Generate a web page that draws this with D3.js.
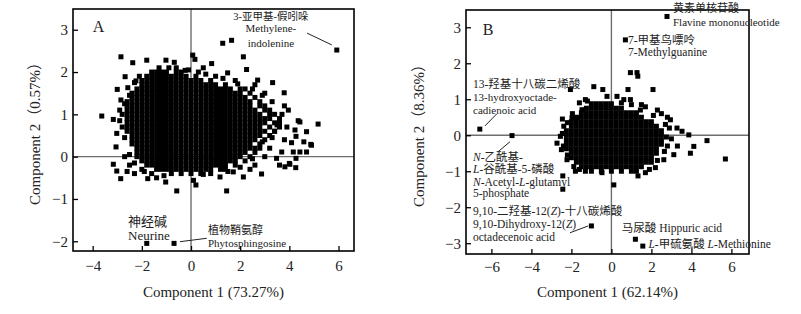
<!DOCTYPE html>
<html>
<head>
<meta charset="utf-8">
<title>PCA score plots</title>
<script src="https://d3js.org/d3.v7.min.js"></script>
<style>
  body { margin: 0; background: #fff; }
  text { font-family: "Liberation Serif", "Noto Sans CJK SC", serif; }
</style>
</head>
<body>
<svg width="801" height="314" id="mainSvg"></svg>
<script>
// ---- panel A data ----
const ticksAX = [-4, -2, 0, 2, 4, 6];
const ticksAY = [-2, -1, 0, 1, 2, 3];

// dense core of cloud A, one row per score-2 value
const coreRowsA = [
  [2.0, [-1.6,-1.4,-1.2,-1,-0.6,-0.4]],
  [1.9, [-1.8,-1.6,-1.4,-1.2,-1,-0.8,-0.6,-0.4,-0.2,0.2]],
  [1.8, [-2,-1.8,-1.6,-1.4,-1.2,-1,-0.8,-0.6,-0.4,-0.2,0,0.2,0.4,0.8]],
  [1.7, [-2,-1.8,-1.6,-1.4,-1.2,-1,-0.8,-0.6,-0.4,-0.2,0,0.2,0.4,0.6,0.8,1,1.4]],
  [1.6, [-2.2,-2,-1.8,-1.6,-1.4,-1.2,-1,-0.8,-0.6,-0.4,-0.2,0,0.2,0.4,0.6,0.8,1,1.2,1.4,1.6,2,2.2]],
  [1.5, [-2.4,-2.2,-2,-1.8,-1.6,-1.4,-1.2,-1,-0.8,-0.6,-0.4,-0.2,0,0.2,0.4,0.6,0.8,1,1.2,1.4,1.6,1.8,2,2.4]],
  [1.4, [-2.4,-2.2,-2,-1.8,-1.6,-1.4,-1.2,-1,-0.8,-0.6,-0.4,-0.2,0,0.2,0.4,0.6,0.8,1,1.2,1.4,1.6,1.8,2,2.2,2.6]],
  [1.3, [-2.6,-2.4,-2.2,-2,-1.8,-1.6,-1.4,-1.2,-1,-0.8,-0.6,-0.4,-0.2,0,0.2,0.4,0.6,0.8,1,1.2,1.4,1.6,1.8,2,2.2,2.4,2.8]],
  [1.2, [-2.6,-2.4,-2.2,-2,-1.8,-1.6,-1.4,-1.2,-1,-0.8,-0.6,-0.4,-0.2,0,0.2,0.4,0.6,0.8,1,1.2,1.4,1.6,1.8,2,2.2,2.4,2.8,3]],
  [1.1, [-2.6,-2.4,-2.2,-2,-1.8,-1.6,-1.4,-1.2,-1,-0.8,-0.6,-0.4,-0.2,0,0.2,0.4,0.6,0.8,1,1.2,1.4,1.6,1.8,2,2.2,2.4,2.6,3,3.2]],
  [1.0, [-2.8,-2.6,-2.4,-2.2,-2,-1.8,-1.6,-1.4,-1.2,-1,-0.8,-0.6,-0.4,-0.2,0,0.2,0.4,0.6,0.8,1,1.2,1.4,1.6,1.8,2,2.2,2.4,2.6,2.8,3.2,3.4]],
  [0.9, [-2.6,-2.4,-2.2,-2,-1.8,-1.6,-1.4,-1.2,-1,-0.8,-0.6,-0.4,-0.2,0,0.2,0.4,0.6,0.8,1,1.2,1.4,1.6,1.8,2,2.2,2.4,2.6,2.8,3,3.2,3.6]],
  [0.8, [-2.6,-2.4,-2.2,-2,-1.8,-1.6,-1.4,-1.2,-1,-0.8,-0.6,-0.4,-0.2,0,0.2,0.4,0.6,0.8,1,1.2,1.4,1.6,1.8,2,2.2,2.4,2.6,2.8,3,3.4,3.6]],
  [0.7, [-2.6,-2.4,-2.2,-2,-1.8,-1.6,-1.4,-1.2,-1,-0.8,-0.6,-0.4,-0.2,0,0.2,0.4,0.6,0.8,1,1.2,1.4,1.6,1.8,2,2.2,2.4,2.6,2.8,3.2,3.6]],
  [0.6, [-2.6,-2.4,-2.2,-2,-1.8,-1.6,-1.4,-1.2,-1,-0.8,-0.6,-0.4,-0.2,0,0.2,0.4,0.6,0.8,1,1.2,1.4,1.6,1.8,2,2.2,2.4,2.6,2.8,3,3.4]],
  [0.5, [-2.4,-2.2,-2,-1.8,-1.6,-1.4,-1.2,-1,-0.8,-0.6,-0.4,-0.2,0,0.2,0.4,0.6,0.8,1,1.2,1.4,1.6,1.8,2,2.2,2.4,2.6,2.8,3.2]],
  [0.4, [-2.4,-2.2,-2,-1.8,-1.6,-1.4,-1.2,-1,-0.8,-0.6,-0.4,-0.2,0,0.2,0.4,0.6,0.8,1,1.2,1.4,1.6,1.8,2,2.2,2.4,2.6,3]],
  [0.3, [-2.4,-2.2,-2,-1.8,-1.6,-1.4,-1.2,-1,-0.8,-0.6,-0.4,-0.2,0,0.2,0.4,0.6,0.8,1,1.2,1.4,1.6,1.8,2,2.2,2.4,2.8]],
  [0.2, [-2.2,-2,-1.8,-1.6,-1.4,-1.2,-1,-0.8,-0.6,-0.4,-0.2,0,0.2,0.4,0.6,0.8,1,1.2,1.4,1.6,1.8,2,2.2,2.4,2.6,2.8]],
  [0.1, [-2.2,-2,-1.8,-1.6,-1.4,-1.2,-1,-0.8,-0.6,-0.4,-0.2,0,0.2,0.4,0.6,0.8,1,1.2,1.4,1.6,1.8,2,2.2,2.6]],
  [0.0, [-2.2,-2,-1.8,-1.6,-1.4,-1.2,-1,-0.8,-0.6,-0.4,-0.2,0,0.2,0.4,0.6,0.8,1,1.2,1.4,1.6,1.8,2,2.4]],
  [-0.1, [-2,-1.8,-1.6,-1.4,-1.2,-1,-0.8,-0.6,-0.4,-0.2,0,0.2,0.4,0.6,0.8,1,1.2,1.4,1.6,1.8,2.2]],
  [-0.2, [-1.8,-1.6,-1.4,-1.2,-1,-0.8,-0.6,-0.4,-0.2,0,0.2,0.4,0.6,0.8,1,1.2,1.4,1.8]],
  [-0.3, [-1.4,-1.2,-1,-0.8,-0.6,-0.4,-0.2,0,0.2,0.4,0.6,0.8,1.2]],
  [-0.4, [-0.8,-0.4,0,0.4]]
];

// scattered points around cloud A
const scatterA = [
  [-2.85,2.36],[-2.37,2.22],[-1.8,2.28],[-1.02,2.28],[-0.68,2.23],[-0.24,2.04],[0.07,2.4],[0.16,2.3],
  [1.29,2.68],[1.65,2.75],[2.13,2.36],[2.26,2.06],[1.49,1.98],[0.84,2.2],[0.5,2.1],[2.71,1.81],
  [3.32,1.75],[3.79,1.51],[3.96,1.1],[4.36,0.85],[5.17,0.77],[4.7,0.59],[4.9,0.27],[4.23,0.63],
  [-3.63,0.96],[-3.0,1.59],[-2.68,1.89],[-2.57,1.63],[-3.16,0.88],[-3.02,0.55],[-3.05,0.23],[-2.24,1.79],
  [-2.85,1.34],[-3.16,-0.18],[-3.02,-0.34],[-2.86,-0.52],[-2.6,-0.35],[-2.3,-0.4],[-1.76,-0.52],[-1.4,-0.5],
  [-1.03,-0.6],[-0.58,-0.81],[0.1,-0.56],[0.2,-0.67],[1.45,-0.81],[1.18,-0.48],[1.72,-0.36],[2.13,-0.48],
  [2.87,-0.41],[3.82,-0.24],[4.02,-0.18],[4.26,-0.26],[4.43,0.11],[4.7,0.11],[3.48,-0.04],[4.27,0.48],
  [4.87,0.29],[4.16,0.11],[4.59,0.35],[4.09,0.33],[3.69,0.11],[4.27,-0.04],[4.0,-0.16],[4.43,0.82],
  [3.0,1.5],[2.6,1.7],[1.8,1.8],[3.8,1.2],[3.9,0.7],[3.8,0.4],[3.2,0.2],[3.4,0.6],[3.6,-0.2],
  [2.6,-0.2],[3.0,0.0],[-2.8,0.7],[-2.9,1.1],[-2.7,0.0],[-2.5,-0.2],[-2.0,-0.3],[-1.6,-0.4],
  [0.8,-0.4],[1.4,-0.3],[2.4,-0.3],[1.0,1.9],[0.3,2.0],[-0.6,2.1],[-1.3,2.1],
  [-2.3,1.75],[-2.5,1.45],[-2.7,1.25],[-2.9,0.85],[-2.7,0.45],[-2.5,0.05],[-2.3,-0.15],[-1.9,-0.35],
  [-1.1,-0.45],[0.5,-0.42],[1.5,-0.35],[2.0,-0.25],[2.5,-0.05],[2.9,0.35],[3.3,0.45],[3.5,0.75],
  [3.7,1.0],[3.3,1.3],[2.9,1.45],[2.5,1.6],[1.9,1.72],[1.3,1.85],[0.6,1.95],[-0.1,2.05],[-0.9,2.1],[-2.1,1.9]
];
// labelled metabolites in A: methylene-indolenine, neurine, phytosphingosine
const labelledA = [[5.93,2.52],[-1.8,-2.05],[-0.69,-2.05]];

const notesA = [
  {x: -4.0, y: 2.94, t: "A", s: 16, a: "start"},
  {x: 3.25, y: 3.23, t: "3-亚甲基-假吲哚", s: 10.5, a: "middle"},
  {x: 3.25, y: 2.94, t: "Methylene-", s: 11, a: "middle"},
  {x: 3.25, y: 2.59, t: "indolenine", s: 11, a: "middle"},
  {x: -1.77, y: -1.63, t: "神经碱", s: 13, a: "middle"},
  {x: -1.71, y: -1.96, t: "Neurine", s: 13, a: "middle"},
  {x: 0.69, y: -1.83, t: "植物鞘氨醇", s: 11, a: "start"},
  {x: 0.69, y: -2.13, t: "Phytosphingosine", s: 11, a: "start"}
];
const leadersA = [[4.72,2.92,5.73,2.64],[-0.45,-2.01,0.64,-1.93]];

// ---- panel B data ----
const ticksBX = [-6, -4, -2, 0, 2, 4, 6];
const ticksBY = [-3, -2, -1, 0, 1, 2, 3];

const coreRowsB = [
  [0.875, [-1,-0.75,-0.5,-0.25,0]],
  [0.75, [-1.25,-1,-0.75,-0.5,-0.25,0,0.25,0.5]],
  [0.625, [-1.5,-1.25,-1,-0.75,-0.5,-0.25,0,0.25,0.5,0.75,1,1.25]],
  [0.5, [-1.75,-1.5,-1.25,-1,-0.75,-0.5,-0.25,0,0.25,0.5,0.75,1,1.25,1.5]],
  [0.375, [-2,-1.75,-1.5,-1.25,-1,-0.75,-0.5,-0.25,0,0.25,0.5,0.75,1,1.25,1.5,1.75,2]],
  [0.25, [-2,-1.75,-1.5,-1.25,-1,-0.75,-0.5,-0.25,0,0.25,0.5,0.75,1,1.25,1.5,1.75,2,2.25]],
  [0.125, [-2.25,-2,-1.75,-1.5,-1.25,-1,-0.75,-0.5,-0.25,0,0.25,0.5,0.75,1,1.25,1.5,1.75,2,2.25,2.5]],
  [0, [-2.25,-2,-1.75,-1.5,-1.25,-1,-0.75,-0.5,-0.25,0,0.25,0.5,0.75,1,1.25,1.5,1.75,2,2.25,2.5]],
  [-0.125, [-2.25,-2,-1.75,-1.5,-1.25,-1,-0.75,-0.5,-0.25,0,0.25,0.5,0.75,1,1.25,1.5,1.75,2,2.25,2.5]],
  [-0.25, [-2.25,-2,-1.75,-1.5,-1.25,-1,-0.75,-0.5,-0.25,0,0.25,0.5,0.75,1,1.25,1.5,1.75,2,2.25,2.5]],
  [-0.375, [-2.25,-2,-1.75,-1.5,-1.25,-1,-0.75,-0.5,-0.25,0,0.25,0.5,0.75,1,1.25,1.5,1.75,2,2.25]],
  [-0.5, [-2,-1.75,-1.5,-1.25,-1,-0.75,-0.5,-0.25,0,0.25,0.5,0.75,1,1.25,1.5,1.75,2,2.25]],
  [-0.625, [-2,-1.75,-1.5,-1.25,-1,-0.75,-0.5,-0.25,0,0.25,0.5,0.75,1,1.25,1.5,1.75,2]],
  [-0.75, [-1.75,-1.5,-1.25,-1,-0.75,-0.5,-0.25,0,0.25,0.5,0.75,1,1.25,1.5,1.75,2]],
  [-0.875, [-1.5,-1.25,-1,-0.75,-0.5,-0.25,0,0.25,0.5,0.75,1,1.25,1.5]],
  [-1, [-1,-0.5,0,0.5,1]]
];

const scatterB = [
  [0.95,1.74],[1.28,1.74],[1.32,1.64],[2.08,1.27],[0.83,1.27],[-2.05,1.27],[-0.88,1.35],[-0.43,1.27],
  [-0.22,1.08],[0.28,1.08],[0.62,0.99],[0.95,0.99],[1.7,0.79],[2.95,0.43],[2.5,0.6],[2.8,0.5],
  [3.28,0.2],[3.53,0.11],[3.87,0.01],[4.12,-0.31],[4.78,-0.15],[5.7,-0.66],[-2.38,0.25],[-2.72,-0.22],
  [-2.55,-0.03],[-1.72,0.48],[-1.47,0.71],[-1.97,0.48],[-1.3,0.99],[-1.6,0.9],[-2.22,-0.68],[-1.88,-0.87],
  [-0.47,-1.04],[0.12,-1.38],[1.33,-1.13],[1.7,-1.04],[2.62,-0.68],[3.12,-0.54],[3.95,-0.5],[2.8,-0.3],
  [3.0,-0.1],[2.9,0.2],[3.3,-0.3],[1.25,-1.0],[-1.3,-1.0],[-1.8,-1.0],[2.2,-0.9],[-2.5,-0.4],
  [-2.45,0.45],[1.0,0.85],[1.5,0.85],[2.3,0.7],
  [-2.45,0.05],[-2.4,-0.3],[-2.2,0.35],[-1.95,0.6],[-1.2,0.95],[0.5,0.9],[1.45,0.7],[2.1,0.55],
  [2.7,0.3],[2.75,-0.05],[2.65,-0.45],[2.3,-0.7],[1.9,-0.95],[-1.6,-0.95],[-2.2,-0.55]
];
// labelled metabolites in B
const labelledB = [
  [2.78,3.3],[0.7,2.65],[-6.58,0.17],[-4.97,-0.01],[-2.43,-1.13],[-2.43,-1.5],
  [-1.0,-2.52],[1.2,-2.89],[1.57,-3.08]
];

const notesB = [
  {x: -6.43, y: 2.78, t: "B", s: 16, a: "start"},
  {x: 3.08, y: 3.42, t: "黄素单核苷酸", s: 11, a: "start"},
  {x: 3.08, y: 3.03, t: "Flavine mononucleotide", s: 11, a: "start"},
  {x: 0.83, y: 2.53, t: "7-甲基鸟嘌呤", s: 11.5, a: "start"},
  {x: 0.83, y: 2.2, t: "7-Methylguanine", s: 11.5, a: "start"},
  {x: -6.92, y: 1.3, t: "13-羟基十八碳二烯酸", s: 11.5, a: "start"},
  {x: -6.92, y: 0.94, t: "13-hydroxyoctade-", s: 11, a: "start"},
  {x: -6.92, y: 0.6, t: "cadienoic acid", s: 11, a: "start"},
  {x: -6.92, y: -0.71, t: "_N_-乙酰基-", s: 11.5, a: "start"},
  {x: -6.92, y: -1.05, t: "_L_-谷酰基-5-磷酸", s: 11.5, a: "start"},
  {x: -6.92, y: -1.41, t: "_N_-Acetyl-_L_-glutamyl", s: 11.5, a: "start"},
  {x: -6.92, y: -1.71, t: "5-phosphate", s: 11.5, a: "start"},
  {x: -6.92, y: -2.21, t: "9,10-二羟基-12(_Z_)-十八碳烯酸", s: 11.5, a: "start"},
  {x: -6.92, y: -2.58, t: "9,10-Dihydroxy-12(_Z_)", s: 11.5, a: "start"},
  {x: -6.92, y: -2.95, t: "octadecenoic acid", s: 11.5, a: "start"},
  {x: 0.52, y: -2.7, t: "马尿酸 Hippuric acid", s: 11.5, a: "start"},
  {x: 1.85, y: -3.14, t: "_L_-甲硫氨酸 _L_-Methionine", s: 11.5, a: "start"}
];
const leadersB = [[-6.32,0.26,-5.74,0.59],[-5.67,-0.46,-5.07,-0.18],[-2.07,-2.71,-1.16,-2.52]];

const panels = [
  {box: {left: 73, top: 9, right: 354, bottom: 251}, xDomain: [-4.8, 6.63], yDomain: [-2.23, 3.49],
   xTicks: ticksAX, yTicks: ticksAY, rows: coreRowsA, points: scatterA.concat(labelledA),
   notes: notesA, leaders: leadersA, xTitle: "Component 1 (73.27%)", yTitle: "Component 2（0.57%）",
   yTitleX: 37, xPad: 9},
  {box: {left: 466, top: 10, right: 749, bottom: 254}, xDomain: [-7.27, 6.88], yDomain: [-3.3, 3.48],
   xTicks: ticksBX, yTicks: ticksBY, rows: coreRowsB, points: scatterB.concat(labelledB),
   notes: notesB, leaders: leadersB, xTitle: "Component 1 (62.14%)", yTitle: "Component 2（8.36%）",
   yTitleX: 421, xPad: 7}
];

const svg = d3.select("#mainSvg");
const markSize = 5;

function drawPanel(p) {
  const b = p.box;
  const x = d3.scaleLinear().domain(p.xDomain).range([b.left, b.right]);
  const y = d3.scaleLinear().domain(p.yDomain).range([b.bottom, b.top]);
  const g = svg.append("g");

  // zero lines
  g.append("line")
    .attr("x1", x(0)).attr("x2", x(0)).attr("y1", b.top).attr("y2", b.bottom)
    .attr("stroke", "#6e6e6e").attr("stroke-width", 1.4);
  g.append("line")
    .attr("x1", b.left).attr("x2", b.right).attr("y1", y(0)).attr("y2", y(0))
    .attr("stroke", "#6e6e6e").attr("stroke-width", 1.4);

  const pts = p.rows.flatMap(([yy, xs]) => xs.map(xx => [xx, yy])).concat(p.points);
  g.append("g").selectAll("rect").data(pts).join("rect")
    .attr("x", d => x(d[0]) - markSize / 2)
    .attr("y", d => y(d[1]) - markSize / 2)
    .attr("width", markSize).attr("height", markSize)
    .attr("fill", "#000");

  // axes with inward ticks
  const xAxis = d3.axisBottom(x).tickValues(p.xTicks).tickSize(-5).tickPadding(p.xPad).tickFormat(d3.format("d"));
  const yAxis = d3.axisLeft(y).tickValues(p.yTicks).tickSize(-5).tickPadding(5).tickFormat(d3.format("d"));
  const gx = g.append("g").attr("transform", `translate(0,${b.bottom})`).call(xAxis);
  const gy = g.append("g").attr("transform", `translate(${b.left},0)`).call(yAxis);
  [gx, gy].forEach(ax => {
    ax.select(".domain").remove();
    ax.selectAll("line").attr("stroke", "#000").attr("stroke-width", 1.3);
    ax.selectAll("text").attr("font-size", 15).attr("fill", "#222")
      .attr("font-family", "Liberation Serif, serif");
  });

  g.append("rect")
    .attr("x", b.left).attr("y", b.top)
    .attr("width", b.right - b.left).attr("height", b.bottom - b.top)
    .attr("fill", "none").attr("stroke", "#000").attr("stroke-width", 1.6);

  // leader lines
  g.append("g").selectAll("line").data(p.leaders).join("line")
    .attr("x1", d => x(d[0])).attr("y1", d => y(d[1]))
    .attr("x2", d => x(d[2])).attr("y2", d => y(d[3]))
    .attr("stroke", "#222").attr("stroke-width", 1);

  // annotations, _..._ marks italic parts
  const notes = g.append("g").selectAll("text").data(p.notes).join("text")
    .attr("x", d => x(d.x)).attr("y", d => y(d.y))
    .attr("font-size", d => d.s).attr("text-anchor", d => d.a)
    .attr("fill", "#222");
  notes.each(function(d) {
    const t = d3.select(this);
    d.t.split("_").forEach((part, i) => {
      if (part === "") return;
      t.append("tspan").text(part).attr("font-style", i % 2 ? "italic" : null);
    });
  });

  // axis titles
  g.append("text")
    .attr("x", (b.left + b.right) / 2).attr("y", 297)
    .attr("text-anchor", "middle").attr("font-size", 15).attr("fill", "#222")
    .text(p.xTitle);
  g.append("text")
    .attr("transform", `translate(${p.yTitleX},${(b.top + b.bottom) / 2}) rotate(-90)`)
    .attr("text-anchor", "middle").attr("dominant-baseline", "middle")
    .attr("font-size", 15).attr("fill", "#222")
    .text(p.yTitle);
}

panels.forEach(drawPanel);
</script>
</body>
</html>
